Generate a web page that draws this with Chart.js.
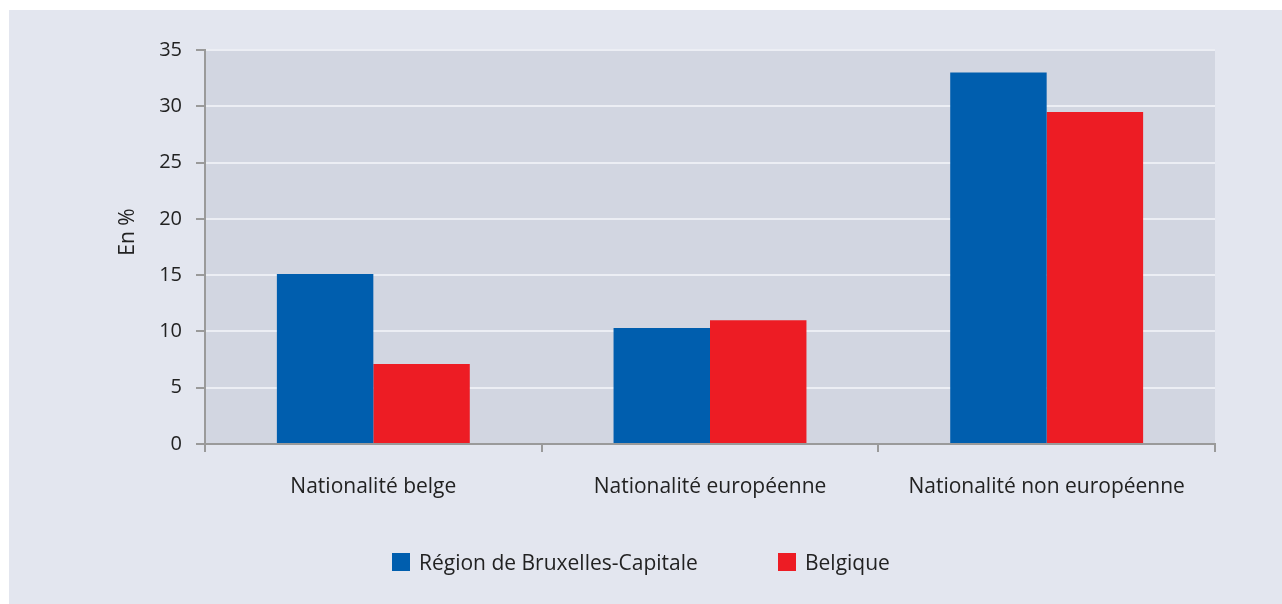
<!DOCTYPE html>
<html>
<head>
<meta charset="utf-8">
<script src="https://cdn.jsdelivr.net/npm/chart.js@4.4.0/dist/chart.umd.min.js"></script>
<style>
  html, body { margin: 0; padding: 0; background: #ffffff; }
  #wrap { position: relative; width: 1282px; height: 604px; }
  #legend { position: absolute; left: 0; top: 548px; width: 1282px; height: 30px;
            font-family: 'Open Sans', sans-serif; font-size: 21px; color: #222; }
  .item { position: absolute; top: 0; display: flex; align-items: center; height: 28px; }
  .box { width: 18px; height: 18px; margin-right: 9px; }
</style>
</head>
<body>
<div id="wrap">
  <canvas id="chart" width="1282" height="604"></canvas>
  <div id="legend"></div>
</div>
<script>
// data
const categories = ['Nationalité belge', 'Nationalité européenne', 'Nationalité non européenne'];
const seriesNames = ['Région de Bruxelles-Capitale', 'Belgique'];
const bruxelles = [15.1, 10.3, 33.0];
const belgique = [7.1, 11.0, 29.5];
const seriesColors = ['#005eae', '#ed1c24'];
const yTicks = [0, 5, 10, 15, 20, 25, 30, 35];
const yTitle = 'En %';

const FONT = "'Open Sans', sans-serif";

// panel + plot background, y axis title
const bgPlugin = {
    id: 'bg',
    beforeDraw(chart) {
        const { ctx, chartArea: a } = chart;
        ctx.save();
        ctx.fillStyle = '#ffffff';
        ctx.fillRect(0, 0, chart.width, chart.height);
        ctx.fillStyle = '#e3e6ef';
        ctx.fillRect(9, 10, chart.width - 9, chart.height - 10);
        ctx.fillStyle = '#d2d6e1';
        ctx.fillRect(a.left, a.top, a.right - a.left, a.bottom - a.top);
        ctx.restore();
    },
    afterDraw(chart) {
        const { ctx } = chart;
        ctx.save();
        ctx.translate(128, 232);
        ctx.rotate(-Math.PI / 2);
        ctx.font = '21px ' + FONT;
        ctx.fillStyle = '#222';
        ctx.textAlign = 'center';
        ctx.textBaseline = 'middle';
        ctx.fillText(yTitle, 0, 0);
        ctx.restore();
    }
};

const chart = new Chart(document.getElementById('chart'), {
    type: 'bar',
    data: {
        labels: categories,
        datasets: [
            { label: seriesNames[0], data: bruxelles, backgroundColor: seriesColors[0] },
            { label: seriesNames[1], data: belgique, backgroundColor: seriesColors[1] }
        ]
    },
    options: {
        responsive: false,
        animation: false,
        layout: { padding: { left: 114, right: 67, top: 50, bottom: 0 } },
        datasets: { bar: { categoryPercentage: 0.573, barPercentage: 1, borderWidth: 0 } },
        plugins: { legend: { display: false }, tooltip: { enabled: false } },
        scales: {
            x: {
                grid: { offset: true, drawOnChartArea: false, drawTicks: true, tickLength: 8,
                        tickColor: '#9a9a9a', lineWidth: 2 },
                border: { color: '#9a9a9a', width: 2 },
                ticks: { color: '#222', padding: 22, font: { family: FONT, size: 21 } },
                afterFit(s) { s.height = 160; }
            },
            y: {
                min: 0, max: 35,
                afterBuildTicks(s) { s.ticks = yTicks.map(v => ({ value: v })); },
                grid: { color: '#eceef4', lineWidth: 2, tickLength: 9, tickColor: '#9a9a9a' },
                border: { color: '#9a9a9a', width: 2 },
                ticks: { color: '#222', padding: 14, font: { family: FONT, size: 20 } },
                afterFit(s) { s.width = 91; }
            }
        }
    },
    plugins: [bgPlugin]
});

// legend
const legendPos = [392, 778];
const legendEl = document.getElementById('legend');
chart.data.datasets.forEach((ds, i) => {
    const it = document.createElement('div');
    it.className = 'item';
    it.style.left = legendPos[i] + 'px';
    it.innerHTML = `<span class="box" style="background:${ds.backgroundColor}"></span><span>${ds.label}</span>`;
    legendEl.appendChild(it);
});
</script>
</body>
</html>
